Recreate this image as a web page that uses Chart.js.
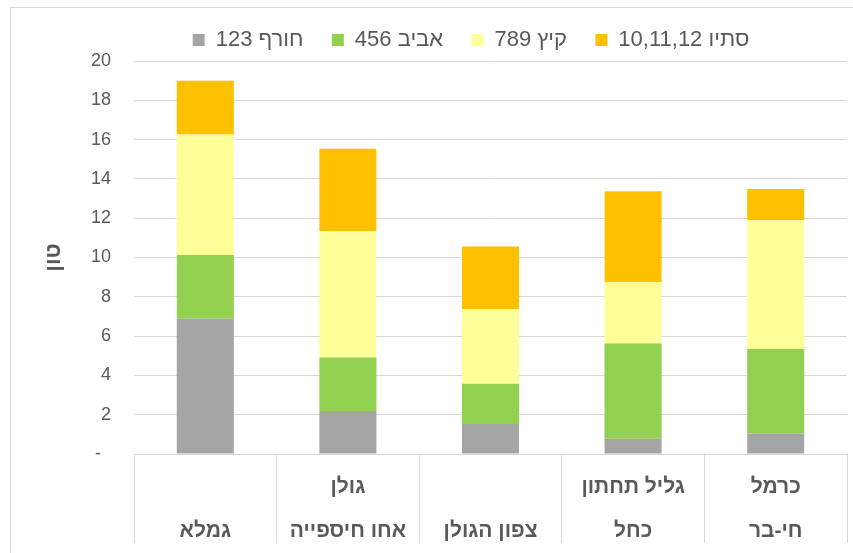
<!DOCTYPE html>
<html>
<head>
<meta charset="utf-8">
<script src="https://cdn.jsdelivr.net/npm/chart.js@4"></script>
<style>
  html, body { margin: 0; padding: 0; width: 853px; height: 553px; overflow: hidden; background: #fff; }
  #frame { position: absolute; left: 10px; top: 7px; width: 921px; height: 560px; border: 1px solid #d9d9d9; }
  #box { position: relative; width: 921px; height: 560px; }
</style>
</head>
<body>
<div id="frame"><div id="box"><canvas id="c"></canvas></div></div>
<script>
const categories = [
  ["", "גמלא"],
  ["גולן", "אחו חיספייה"],
  ["", "צפון הגולן"],
  ["גליל תחתון", "כחל"],
  ["כרמל", "חי-בר"]
];
const seriesNames = ["123 חורף", "456 אביב", "789 קיץ", "10,11,12 סתיו"];
const winter = [6.9, 2.19, 1.53, 0.77, 1.04];
const spring = [3.23, 2.72, 2.04, 4.85, 4.30];
const summer = [6.13, 6.44, 3.80, 3.13, 6.55];
const autumn = [2.74, 4.19, 3.19, 4.62, 1.60];
const yTicks = [0, 2, 4, 6, 8, 10, 12, 14, 16, 18, 20];
const yTitle = "טון";

const colors = ["#A5A5A5", "#92D050", "#FFFF99", "#FFC000"];
const FONT = "'Liberation Sans', Arial, sans-serif";
const TXT = "#595959";
const GRID = "#d9d9d9";

const values = [winter, spring, summer, autumn];
const datasets = values.map((v, i) => ({
  label: seriesNames[i],
  data: v,
  backgroundColor: colors[i],
  borderWidth: 0,
  barPercentage: 0.4,
  categoryPercentage: 1.0
}));

// Centre the legend on the (cropped) chart frame rather than the padded area
const legendShift = {
  id: "legendShift",
  afterLayout(chart) {
    const l = chart.legend;
    if (l) { l.left += 42; l.right += 42; }
  }
};

new Chart(document.getElementById("c"), {
  type: "bar",
  data: { labels: categories, datasets },
  plugins: [legendShift],
  options: {
    responsive: true,
    maintainAspectRatio: false,
    animation: false,
    layout: { padding: { left: 0, right: 85, top: 11, bottom: 0 } },
    plugins: {
      tooltip: { enabled: false },
      legend: {
        position: "top",
        labels: {
          boxWidth: 12,
          boxHeight: 12,
          padding: 10,
          color: TXT,
          font: { family: FONT, size: 22 },
          generateLabels: (chart) => {
            const items = Chart.defaults.plugins.legend.labels.generateLabels(chart);
            items.forEach((it, i) => { if (i < items.length - 1) it.text = it.text + "   "; });
            return items;
          }
        }
      }
    },
    scales: {
      x: {
        stacked: true,
        afterFit: (s) => { s.height = 114; },
        border: { display: true, color: GRID, width: 1 },
        grid: {
          offset: true,
          drawOnChartArea: false,
          drawTicks: true,
          tickLength: 89,
          color: GRID,
          lineWidth: 1
        },
        ticks: {
          color: TXT,
          padding: -78,
          maxRotation: 0,
          autoSkip: false,
          font: { family: FONT, size: 21, weight: "bold", lineHeight: 44 / 21 }
        }
      },
      y: {
        stacked: true,
        min: 0,
        max: 20,
        afterFit: (s) => { s.width = 123; },
        afterBuildTicks: (s) => { s.ticks = yTicks.map(v => ({ value: v })); },
        border: { display: false },
        grid: { color: GRID, lineWidth: 1, drawTicks: false },
        ticks: {
          color: TXT,
          padding: 23,
          font: { family: FONT, size: 18 },
          callback: (v) => (v === 0 ? "-  " : String(v))
        },
        title: {
          display: true,
          text: yTitle,
          color: TXT,
          padding: { top: 30, bottom: 0 },
          font: { family: FONT, size: 22, weight: "bold", lineHeight: 1.2 }
        }
      }
    }
  }
});
</script>
</body>
</html>
